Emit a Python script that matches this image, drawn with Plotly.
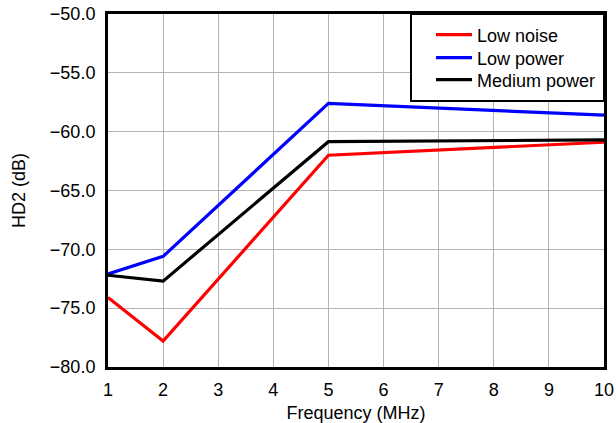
import plotly.graph_objects as go

freq = [1, 2, 5, 10]
low_noise = [-74.1, -77.8, -62.0, -60.9]
low_power = [-72.1, -70.6, -57.6, -58.6]
medium_power = [-72.2, -72.7, -60.85, -60.7]

series = [
    ("Low noise", low_noise, "#ff0000", "legend"),
    ("Low power", low_power, "#0000ff", "legend2"),
    ("Medium power", medium_power, "#000000", "legend3"),
]

fig = go.Figure()
for name, vals, color, lg in series:
    fig.add_trace(go.Scatter(x=freq, y=vals, mode="lines", name=name, legend=lg,
                             line=dict(color=color, width=3.2)))

font = "Liberation Sans, Arial, sans-serif"
plot_l, plot_r, plot_t, plot_b = 108, 604, 14, 367
pw, ph = plot_r - plot_l, plot_b - plot_t


def px(xp):
    return (xp - plot_l) / pw


def py(yp):
    return (plot_b - yp) / ph


leg_common = dict(bordercolor="rgba(0,0,0,0)", borderwidth=0,
                  bgcolor="rgba(0,0,0,0)", font=dict(size=18),
                  itemwidth=36, xanchor="left", yanchor="middle")

fig.update_layout(
    width=616, height=423,
    margin=dict(l=plot_l, r=616 - plot_r, t=plot_t, b=423 - plot_b, autoexpand=False),
    paper_bgcolor="white", plot_bgcolor="white",
    font=dict(family=font, size=18, color="black"),
    showlegend=True,
    legend=dict(x=px(431), y=py(35), **leg_common),
    legend2=dict(x=px(431), y=py(58), **leg_common),
    legend3=dict(x=px(431), y=py(80), **leg_common),
    shapes=[dict(type="rect", xref="paper", yref="paper",
                 x0=px(411), x1=1, y0=py(101), y1=1,
                 line=dict(color="black", width=2), fillcolor="white",
                 layer="above")],
    xaxis=dict(range=[1, 10], tickvals=list(range(1, 11)),
               showgrid=True, gridcolor="#b4b4b4", gridwidth=1,
               showline=True, linecolor="black", linewidth=3, mirror=True,
               ticks="", zeroline=False, automargin=False, ticklabelstandoff=4,
               title=dict(text="Frequency (MHz)", standoff=10, font=dict(size=18))),
    yaxis=dict(range=[-80, -50], dtick=5, tickformat=".1f",
               showgrid=True, gridcolor="#b4b4b4", gridwidth=1,
               showline=True, linecolor="black", linewidth=3, mirror=True,
               ticks="", zeroline=False, automargin=False, ticklabelstandoff=6,
               title=dict(text="HD2 (dB)", standoff=20, font=dict(size=18))),
)
fig.write_html("out.html", config={"displayModeBar": False},
               post_script="document.body.style.margin='0';document.body.style.overflow='hidden';")
